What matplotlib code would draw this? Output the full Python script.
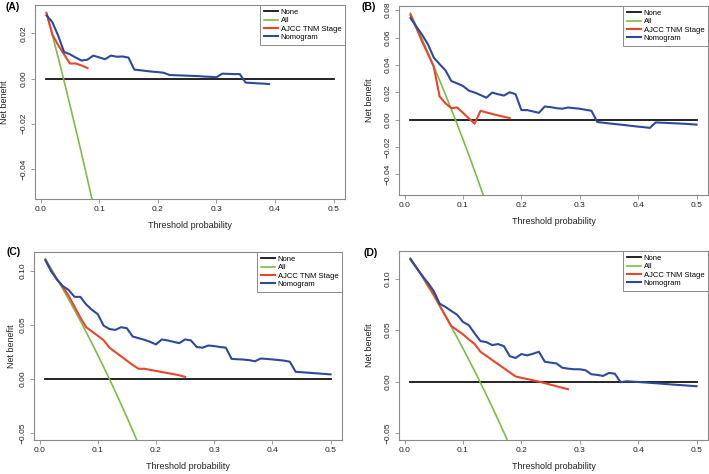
import numpy as np
import matplotlib
matplotlib.use("Agg")
import matplotlib.pyplot as plt

plt.rcParams['font.family'] = ['Liberation Sans', 'DejaVu Sans']

# threshold grid used by the decision curves
thresh = np.arange(1, 51) / 100

none_x = [0.01, 0.5]
none_y = [0.0, 0.0]

# (A)
a_all = [0.0293, 0.0194, 0.0093, -0.0010, -0.0116, -0.0224, -0.0333, -0.0446, -0.0560]
a_ajcc = [0.0290, 0.0196, 0.0148, 0.0108, 0.0067, 0.0067, 0.0058, 0.0047]
a_nomo = [0.0280, 0.0250, 0.0190, 0.0118, 0.0108, 0.0093, 0.0080, 0.0084, 0.0102, 0.0094,
          0.0086, 0.0102, 0.0097, 0.0098, 0.0093, 0.0040, 0.0037, 0.0034, 0.0031, 0.0029,
          0.0026, 0.0016, 0.0015, 0.0014, 0.0013, 0.0012, 0.0011, 0.0009, 0.0008, 0.0006,
          0.0022, 0.0021, 0.0020, 0.0020, -0.0018, -0.0019, -0.0021, -0.0022, -0.0024]

# (B)
b_all = [0.0778, 0.0684, 0.0588, 0.0490, 0.0389, 0.0287, 0.0183, 0.0076, -0.0033, -0.0144,
         -0.0258, -0.0375, -0.0494, -0.0616]
b_ajcc = [0.0766, 0.0670, 0.0570, 0.0480, 0.0386, 0.0169, 0.0120, 0.0084, 0.0089, 0.0050,
          0.0010, -0.0029, 0.0065, 0.0053, 0.0042, 0.0031, 0.0021, 0.0012]
b_nomo = [0.0742, 0.0680, 0.0620, 0.0550, 0.0453, 0.0405, 0.0360, 0.0282, 0.0265, 0.0246,
          0.0212, 0.0198, 0.0180, 0.0160, 0.0198, 0.0186, 0.0176, 0.0200, 0.0186, 0.0070,
          0.0070, 0.0060, 0.0050, 0.0096, 0.0092, 0.0084, 0.0080, 0.0089, 0.0084, 0.0080,
          0.0072, 0.0065, -0.0017, -0.0022, -0.0027, -0.0032, -0.0036, -0.0041, -0.0046, -0.0051,
          -0.0055, -0.0060, -0.0020, -0.0022, -0.0024, -0.0026, -0.0028, -0.0030, -0.0033, -0.0036]

# (C)
c_all = [0.1111, 0.1020, 0.0928, 0.0833, 0.0737, 0.0638, 0.0538, 0.0435, 0.0330, 0.0222,
         0.0112, 0.0000, -0.0115, -0.0233, -0.0353, -0.0476, -0.0602]
c_ajcc = [0.1100, 0.1000, 0.0920, 0.0850, 0.0770, 0.0670, 0.0570, 0.0480, 0.0440, 0.0400,
          0.0360, 0.0290, 0.0250, 0.0210, 0.0170, 0.0130, 0.0095, 0.0095, 0.0085, 0.0075,
          0.0065, 0.0055, 0.0045, 0.0035, 0.0020]
c_nomo = [0.1100, 0.0997, 0.0920, 0.0860, 0.0823, 0.0760, 0.0760, 0.0690, 0.0640, 0.0600,
          0.0494, 0.0463, 0.0454, 0.0479, 0.0470, 0.0393, 0.0378, 0.0363, 0.0344, 0.0320,
          0.0366, 0.0357, 0.0344, 0.0332, 0.0366, 0.0357, 0.0296, 0.0290, 0.0310, 0.0305,
          0.0296, 0.0290, 0.0186, 0.0183, 0.0180, 0.0175, 0.0164, 0.0190, 0.0186, 0.0181,
          0.0176, 0.0170, 0.0160, 0.0067, 0.0063, 0.0059, 0.0055, 0.0051, 0.0047, 0.0043]

# (D)
d_all = [0.1202, 0.1112, 0.1021, 0.0927, 0.0832, 0.0734, 0.0634, 0.0533, 0.0429, 0.0322,
         0.0213, 0.0102, -0.0012, -0.0128, -0.0247, -0.0369, -0.0494, -0.0622]
d_ajcc = [0.1190, 0.1110, 0.1030, 0.0935, 0.0850, 0.0740, 0.0640, 0.0540, 0.0500, 0.0460,
          0.0410, 0.0365, 0.0290, 0.0250, 0.0210, 0.0170, 0.0130, 0.0090, 0.0050, 0.0037,
          0.0025, 0.0013, 0.0000, -0.0015, -0.0030, -0.0045, -0.0060, -0.0074]
d_nomo = [0.1190, 0.1110, 0.1030, 0.0960, 0.0880, 0.0758, 0.0726, 0.0687, 0.0650, 0.0580,
          0.0548, 0.0468, 0.0394, 0.0384, 0.0355, 0.0365, 0.0345, 0.0248, 0.0229, 0.0268,
          0.0255, 0.0271, 0.0290, 0.0194, 0.0184, 0.0177, 0.0135, 0.0126, 0.0120, 0.0120,
          0.0110, 0.0071, 0.0065, 0.0055, 0.0084, 0.0077, -0.0006, 0.0003, 0.0000, -0.0004,
          -0.0008, -0.0012, -0.0016, -0.0020, -0.0025, -0.0029, -0.0033, -0.0037, -0.0041, -0.0045]

labels = ['None', 'All', 'AJCC TNM Stage', 'Nomogram']
x_ticks = [0.0, 0.1, 0.2, 0.3, 0.4, 0.5]
x_ticklabels = ['0.0', '0.1', '0.2', '0.3', '0.4', '0.5']

col_none = '#111111'
col_all = '#7cbd45'
col_ajcc = '#e8452c'
col_nomo = '#2b4a9c'
frame_col = '#8a8a8a'

W, H = 709, 474
panels = [
    # tag, all, ajcc, nomo, ylim, yticks, yticklabels, box (l, t, r, b) px, tag pos px, ylabel x px
    ('(A)', a_all, a_ajcc, a_nomo, (-0.0533, 0.0326), [-0.04, -0.02, 0.0, 0.02],
     ['−0.04', '−0.02', '0.00', '0.02'], (35, 5, 345, 199), (5, 7), 9),
    ('(B)', b_all, b_ajcc, b_nomo, (-0.055, 0.083), [-0.04, -0.02, 0.0, 0.02, 0.04, 0.06, 0.08],
     ['−0.04', '−0.02', '0.00', '0.02', '0.04', '0.06', '0.08'], (399, 6, 708, 195), (361, 7), 374),
    ('(C)', c_all, c_ajcc, c_nomo, (-0.0564, 0.1175), [-0.05, 0.0, 0.05, 0.10],
     ['−0.05', '0.00', '0.05', '0.10'], (34, 252, 342, 440), (6, 252), 16),
    ('(D)', d_all, d_ajcc, d_nomo, (-0.0568, 0.127), [-0.05, 0.0, 0.05, 0.10],
     ['−0.05', '0.00', '0.05', '0.10'], (399, 251, 708, 440), (364, 253), 374),
]

fig = plt.figure(figsize=(W / 100, H / 100), dpi=100)

for tag, y_all, y_ajcc, y_nomo, ylim, yt, ytl, box, tagpos, ylab_x in panels:
    l, t, r, b = box
    ax = fig.add_axes([l / W, 1 - b / H, (r - l) / W, (b - t) / H])
    ax.plot(none_x, none_y, color=col_none, lw=1.3, label=labels[0])
    ax.plot(thresh[:len(y_all)], y_all, color=col_all, lw=1.2, label=labels[1])
    ax.plot(thresh[:len(y_ajcc)], y_ajcc, color=col_ajcc, lw=1.5, label=labels[2])
    ax.plot(thresh[:len(y_nomo)], y_nomo, color=col_nomo, lw=1.5, label=labels[3])
    ax.set_xlim(-0.0096, 0.5196)
    ax.set_ylim(*ylim)
    ax.set_xticks(x_ticks)
    ax.set_xticklabels(x_ticklabels)
    ax.set_yticks(yt)
    ax.set_yticklabels(ytl, rotation=90, va='center')
    ax.tick_params(axis='both', labelsize=6, length=3, width=0.6, color=frame_col,
                   labelcolor='#222222', pad=2)
    for sp in ax.spines.values():
        sp.set_color(frame_col)
        sp.set_linewidth(0.8)
    ax.set_xlabel('Threshold probability', fontsize=6.5, color='#222222')
    ax.set_ylabel('Net benefit', fontsize=6.5, color='#222222')
    ax.xaxis.set_label_coords(0.5, -22 / (b - t))
    ax.yaxis.set_label_coords(-(l - ylab_x) / (r - l), 0.5)
    leg = ax.legend(loc='upper right', bbox_to_anchor=(1, 1), borderaxespad=0,
                    fontsize=5.5, frameon=True, fancybox=False, framealpha=1,
                    edgecolor=frame_col, handlelength=1.8, handletextpad=0.4,
                    labelspacing=0.12, borderpad=0.5)
    leg.get_frame().set_linewidth(0.7)
    fig.text(tagpos[0] / W, 1 - tagpos[1] / H, tag, fontsize=7.5, fontweight='bold',
             ha='left', va='center')

fig.savefig('out.png', dpi=100)
